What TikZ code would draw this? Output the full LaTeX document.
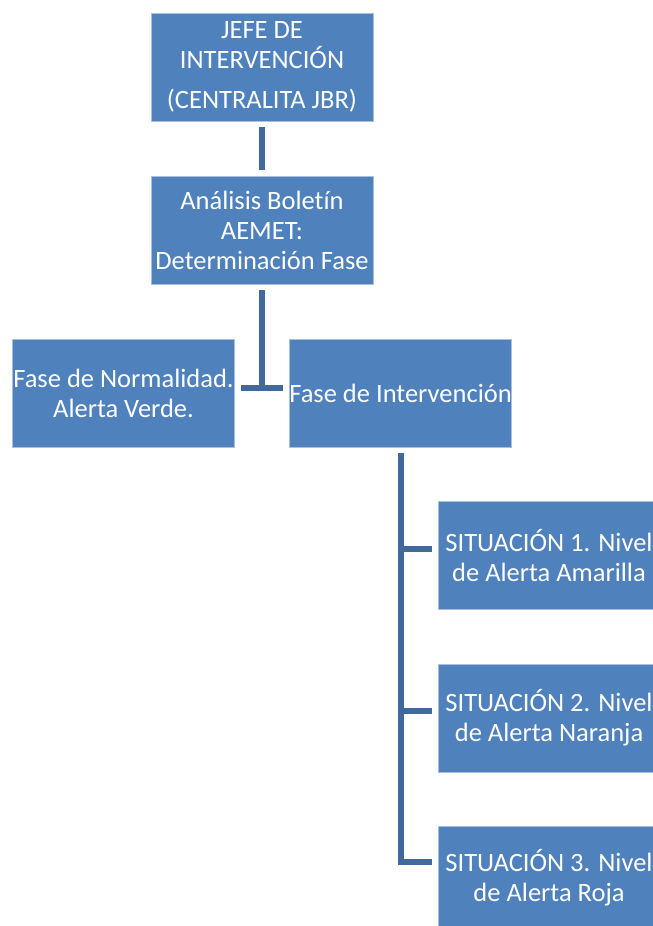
\documentclass[tikz,border=0pt]{standalone}
\usepackage{fontspec}
\setmainfont{Carlito}[Ligatures=NoCommon]
\usetikzlibrary{calc}
\definecolor{boxfill}{HTML}{4F81BD}
\definecolor{boxline}{HTML}{A7C0DE}
\definecolor{linec}{HTML}{41699B}
\begin{document}
\begin{tikzpicture}[x=1pt,y=-1pt,
  box/.style={draw=boxline, line width=0.8pt, fill=boxfill, text=white,
    minimum width=222pt, minimum height=108pt, inner sep=0pt, align=center,
    font=\fontsize{26.5}{30}\selectfont},
  conn/.style={draw=linec, line width=6pt}]
\useasboundingbox (0,0) rectangle (653,926);
\clip (0,0) rectangle (653,926);
\node[box] (jefe) at (262,67) {JEFE DE\\INTERVENCIÓN\\[10pt](CENTRALITA JBR)};
\node[box] (analisis) at (262,230) {Análisis Boletín\\AEMET:\\Determinación Fase};
\node[box] (normal) at (123.5,393) {Fase de Normalidad.\\Alerta Verde.};
\node[box] (interv) at (400.5,393) {Fase de Intervención};
\node[box] (s1) at (549,555.5) {SITUACIÓN 1. Nivel\\de Alerta Amarilla};
\node[box] (s2) at (549,718) {SITUACIÓN 2. Nivel\\de Alerta Naranja};
\node[box, minimum height=104pt] (s3) at (549,878) {SITUACIÓN 3. Nivel\\de Alerta Roja};
% connectors
\draw[conn, shorten <=6pt, shorten >=6pt] (jefe.south) -- (analisis.north);
\coordinate (hj) at ([yshift=5pt]analisis.south |- normal.east);
\draw[conn, shorten <=6pt] (analisis.south) -- ([yshift=-3pt]hj);
\draw[conn, shorten <=6pt, shorten >=6pt] ([yshift=5pt]normal.east) -- ([yshift=5pt]interv.west);
\coordinate (b1) at ([yshift=7pt]s1.west);
\coordinate (b2) at ([yshift=7pt]s2.west);
\coordinate (b3) at ([yshift=16pt]s3.west);
\draw[conn, shorten <=6pt, shorten >=6pt] (interv.south) |- (b3);
\draw[conn, shorten >=6pt] (interv.south |- b1) -- (b1);
\draw[conn, shorten >=6pt] (interv.south |- b2) -- (b2);
\end{tikzpicture}
\end{document}
